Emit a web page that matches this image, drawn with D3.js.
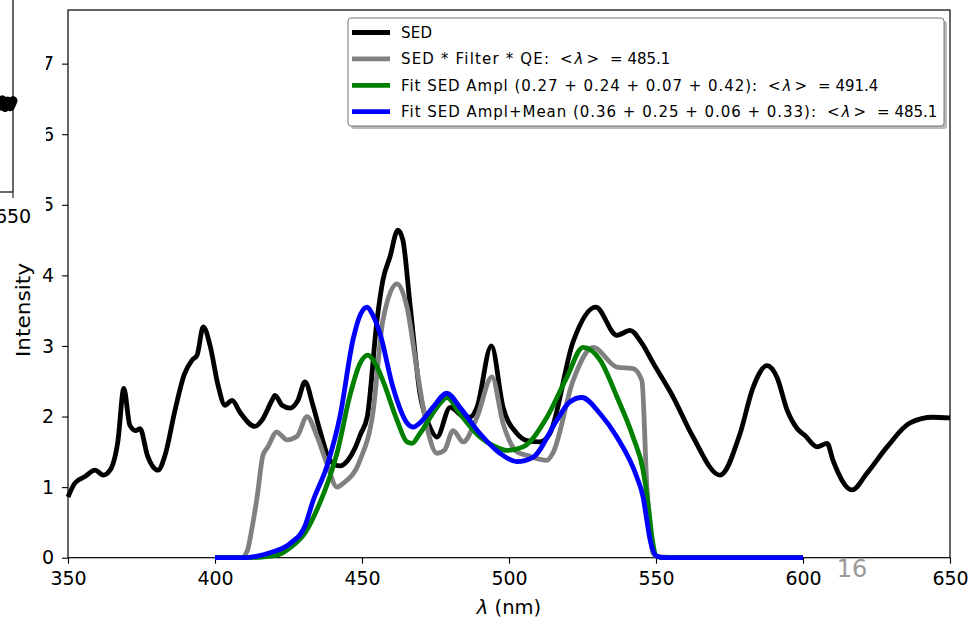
<!DOCTYPE html>
<html>
<head>
<meta charset="utf-8">
<script src="https://cdn.jsdelivr.net/npm/d3@7"></script>
<style>
  html, body { margin: 0; padding: 0; background: #fff; }
  svg { display: block; font-family: "DejaVu Sans", sans-serif; }
</style>
</head>
<body>
<svg id="chart" width="973" height="620"></svg>
<script>
// ---------------- DATA ----------------
const xTicks = [350, 400, 450, 500, 550, 600, 650];
const yTicks = [0, 1, 2, 3, 4, 5, 6, 7];

// SED (black): [wavelength nm, intensity]
const sedPoints = [
  [350,0.86],[352.4,1.06],[355.8,1.15],[359.2,1.24],[362,1.17],[364.3,1.24],[367,1.66],[369,2.4],
  [371,1.88],[373,1.8],[374.5,1.83],[377,1.45],[380.6,1.24],[383,1.45],[386.4,2.09],[389.5,2.59],
  [392.2,2.8],[393.9,2.87],[396,3.27],[398.3,3.01],[401,2.45],[403.4,2.16],[405.8,2.23],[408.5,2.06],
  [413.6,1.86],[416,1.95],[419.4,2.23],[420.4,2.3],[422.8,2.16],[425.5,2.12],[428.2,2.23],[430.6,2.49],
  [433.3,2.16],[435.7,1.8],[439.1,1.38],[442.5,1.3],[445.2,1.38],[447.6,1.55],[449.5,1.75],[451.8,2.0],
  [455.1,3.36],[457.1,3.93],[459.5,4.26],[462.2,4.64],[463.9,4.5],[466.3,3.6],[469.7,2.33],[473.1,1.85],
  [475.5,1.71],[480,2.13],[484.5,2.0],[486.7,1.99],[489.1,2.13],[494,3.0],[498,2.13],[502.7,1.76],
  [506.1,1.66],[510.5,1.64],[513.9,1.76],[521.8,3.06],[529.5,3.55],[536.7,3.15],[541.2,3.22],[545,3.05],
  [549,2.76],[555.8,2.28],[562.6,1.71],[571.8,1.17],[578.6,1.76],[583,2.41],[587.8,2.72],[591.2,2.55],
  [594.6,2.09],[598,1.83],[600.7,1.73],[604.8,1.57],[608.2,1.62],[610.2,1.38],[616.7,0.96],[621.8,1.2],
  [628.6,1.57],[636.4,1.91],[644.2,1.99],[650,1.98]
];

// SED * Filter * QE (gray)
const filtPoints = [
  [400,0],[409,0],[411,0.1],[412.5,0.4],[414.3,0.85],[416.3,1.45],[418,1.57],[421,1.78],[424.5,1.67],
  [427.9,1.72],[431.3,2.0],[434.7,1.72],[438,1.34],[441.5,1.0],[443.5,1.05],[449.3,1.38],[453.7,2.05],
  [457.1,3.36],[461.9,3.88],[465.3,3.55],[468.7,2.66],[472.1,1.85],[475.5,1.48],[478,1.52],[481,1.8],
  [484.4,1.64],[489.1,1.99],[494.2,2.56],[498,1.9],[502.7,1.5],[506.1,1.45],[512.9,1.38],[514.9,1.48],
  [521.8,2.51],[528.6,2.98],[536.7,2.7],[542.2,2.68],[545.2,2.51],[546.9,1.0],[549,0.06],[551,0.01],
  [560,0],[600,0]
];

// Fit SED Ampl (green)
const fitAmplPoints = [
  [400,0],[410,0],[416,0.01],[420,0.03],[422,0.05],[425.5,0.14],[430.6,0.35],[435.7,0.78],[438.5,1.08],
  [441.5,1.48],[445.9,2.3],[449.3,2.75],[452,2.87],[454.5,2.75],[457.1,2.51],[461.9,1.95],[465.3,1.64],
  [467,1.62],[469.7,1.76],[475.5,2.13],[478.9,2.27],[483.3,2.04],[490.1,1.71],[495,1.58],[499.3,1.52],
  [504.8,1.57],[512.9,1.99],[519.7,2.56],[525.2,2.98],[531,2.8],[536.7,2.28],[542.2,1.71],[545.6,1.24],
  [547.5,0.7],[548.6,0.3],[550.3,0.02],[553,0],[600,0]
];

// Fit SED Ampl+Mean (blue)
const fitMeanPoints = [
  [400,0],[410,0],[414,0.02],[418.7,0.07],[425.5,0.2],[430.6,0.45],[433.3,0.8],[438,1.29],[442.5,2.0],
  [447,3.1],[449.5,3.45],[451.8,3.55],[453.5,3.45],[456.1,3.18],[460.5,2.42],[465.3,1.91],[467.5,1.85],
  [469.7,1.91],[474.1,2.13],[478.9,2.33],[483.3,2.13],[490.1,1.76],[496.9,1.48],[502.7,1.36],[508.1,1.42],
  [516.3,1.95],[520.5,2.2],[524.8,2.27],[531,2.04],[536.7,1.71],[543.5,1.14],[545.6,0.86],[547,0.5],
  [548,0.25],[550.3,0.02],[553,0],[600,0]
];

// partially visible inset (top-left) — its last visible samples
const insetPoints = [[645,3.4],[646,3.65],[647,3.35],[648,3.6],[649,3.38],[650,3.62]];
const insetTicks = [650];

const legendLabels = [
  {pre: "SED", val: null},
  {pre: "SED * Filter * QE:", val: "485.1"},
  {pre: "Fit SED Ampl (0.27 + 0.24 + 0.07 + 0.42):", val: "491.4"},
  {pre: "Fit SED Ampl+Mean (0.36 + 0.25 + 0.06 + 0.33):", val: "485.1"}
];
const legendPreWidths = [31, 148, 356, 415];
const seriesColors = ["#000000", "#808080", "#008000", "#0000ff"];
const pageNumber = "16";

// ---------------- LAYOUT ----------------
const svg = d3.select("#chart");
const M = {left: 68, top: 10, right: 950, bottom: 557.7};
const x = d3.scaleLinear().domain([350, 650]).range([M.left, M.right]);
const y = d3.scaleLinear().domain([0, 7.76]).range([M.bottom, M.top]);

const line = d3.line()
  .x(d => x(d[0])).y(d => y(d[1]))
  .curve(d3.curveMonotoneX);

// axes
const xAxis = d3.axisBottom(x).tickValues(xTicks).tickSize(6).tickPadding(8).tickFormat(d3.format("d"));
const yAxis = d3.axisLeft(y).tickValues(yTicks).tickSize(6).tickPadding(8).tickFormat(d3.format("d"));

const gx = svg.append("g").attr("transform", `translate(0,${M.bottom})`).call(xAxis);
const gy = svg.append("g").attr("transform", `translate(${M.left},0)`).call(yAxis);
[gx, gy].forEach(g => {
  g.select(".domain").remove();
  g.selectAll(".tick line").attr("stroke", "#000").attr("stroke-width", 1.1);
  g.selectAll(".tick text").attr("fill", "#000").style("font-size", "19px").style("font-family", "DejaVu Sans");
});

// spines
svg.append("rect").attr("x", M.left).attr("y", M.top)
  .attr("width", M.right - M.left).attr("height", M.bottom - M.top)
  .attr("fill", "none").attr("stroke", "#000").attr("stroke-width", 1.2);

// series
const series = [sedPoints, filtPoints, fitAmplPoints, fitMeanPoints];
series.forEach((pts, i) => {
  svg.append("path").datum(pts)
    .attr("d", line)
    .attr("fill", "none")
    .attr("stroke", seriesColors[i])
    .attr("stroke-width", 4.8)
    .attr("stroke-linejoin", "round")
    .attr("stroke-linecap", "butt");
});

// axis labels
svg.append("text")
  .attr("transform", `translate(30,310) rotate(-90)`)
  .attr("text-anchor", "middle")
  .style("font-size", "19.5px")
  .attr("textLength", 94).attr("lengthAdjust", "spacingAndGlyphs")
  .text("Intensity");

const xl = svg.append("text")
  .attr("x", (M.left + M.right) / 2).attr("y", 614)
  .attr("text-anchor", "middle")
  .style("font-size", "19.5px");
xl.append("tspan").style("font-style", "italic").text("λ");
xl.append("tspan").text(" (nm)");

// legend
const lg = svg.append("g");
const LB = {x: 348, y: 18, w: 596, h: 108};
lg.append("rect").attr("x", LB.x + 3).attr("y", LB.y + 3).attr("width", LB.w).attr("height", LB.h)
  .attr("rx", 3).attr("fill", "#8a8a8a").attr("opacity", 0.6);
lg.append("rect").attr("x", LB.x).attr("y", LB.y).attr("width", LB.w).attr("height", LB.h)
  .attr("rx", 3).attr("fill", "#fff").attr("stroke", "#777").attr("stroke-width", 1);
legendLabels.forEach((lab, i) => {
  const yy = 32.5 + i * 26.4;
  lg.append("line").attr("x1", 352).attr("x2", 390).attr("y1", yy).attr("y2", yy)
    .attr("stroke", seriesColors[i]).attr("stroke-width", 4.8);
  lg.append("text").attr("x", 401).attr("y", yy + 5.5).style("font-size", "15px")
    .attr("textLength", legendPreWidths[i]).attr("lengthAdjust", "spacing")
    .text(lab.pre);
  if (lab.val) {
    const t = lg.append("text").attr("x", 401 + legendPreWidths[i] + 11).attr("y", yy + 5.5)
      .style("font-size", "15px");
    t.append("tspan").text("<");
    t.append("tspan").attr("dx", 2).style("font-style", "italic").text("λ");
    t.append("tspan").attr("dx", 3).text(">");
    t.append("tspan").attr("dx", 11).text("= " + lab.val);
  }
});

// page number
svg.append("text").attr("x", 852).attr("y", 577).attr("text-anchor", "middle")
  .style("font-size", "24px").attr("fill", "#999").text(pageNumber);

// partially visible inset at top-left (covers clipped y tick labels)
svg.append("rect").attr("x", 0).attr("y", 0).attr("width", 46).attr("height", 212).attr("fill", "#fff");
const ix = d3.scaleLinear().domain([600, 650]).range([-120, 13]);
const iy = d3.scaleLinear().domain([0, 8]).range([192, -10]);
svg.append("path").datum(insetPoints)
  .attr("d", d3.line().x(d => ix(d[0])).y(d => iy(d[1])))
  .attr("fill", "none").attr("stroke", "#000").attr("stroke-width", 9).attr("stroke-linecap", "round")
  .attr("stroke-linejoin", "round");
svg.append("line").attr("x1", 13).attr("x2", 13).attr("y1", 0).attr("y2", 192).attr("stroke", "#000").attr("stroke-width", 1.2);
svg.append("line").attr("x1", 0).attr("x2", 13).attr("y1", 192).attr("y2", 192).attr("stroke", "#000").attr("stroke-width", 1.2);
insetTicks.forEach(v => {
  svg.append("line").attr("x1", ix(v)).attr("x2", ix(v)).attr("y1", 192).attr("y2", 198).attr("stroke", "#000");
  svg.append("text").attr("x", ix(v)).attr("y", 223).attr("text-anchor", "middle")
    .style("font-size", "19px").text(d3.format("d")(v));
});
</script>
</body>
</html>
